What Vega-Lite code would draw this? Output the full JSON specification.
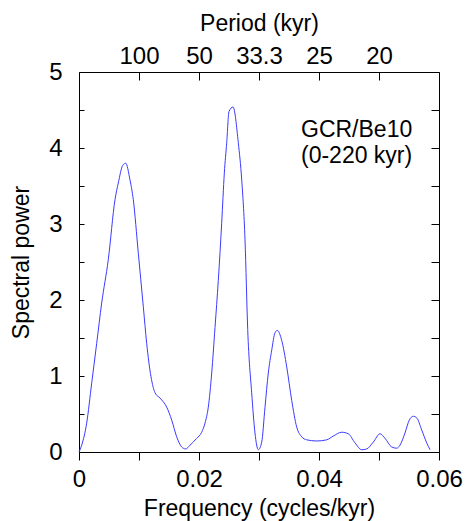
{
  "$schema": "https://vega.github.io/schema/vega-lite/v6.json",
  "width": 360,
  "height": 380,
  "autosize": "none",
  "padding": {"left": 79, "top": 72, "right": 26, "bottom": 69},
  "config": {
    "font": "Liberation Sans",
    "view": {"stroke": "black", "strokeWidth": 1},
    "axis": {
      "grid": false,
      "domain": false,
      "tickColor": "black",
      "tickWidth": 1,
      "labelColor": "black",
      "labelFontSize": 24,
      "labelFont": "Liberation Sans",
      "labelFlush": false,
      "labelOverlap": false,
      "titleFont": "Liberation Sans",
      "titleFontSize": 23,
      "titleFontWeight": "normal",
      "titleColor": "black"
    }
  },
  "data": {
    "values": [
      {"f": 0, "P": 0},
      {"f": 0.00045, "P": 0.09},
      {"f": 0.00128, "P": 0.38},
      {"f": 0.00212, "P": 0.91},
      {"f": 0.00295, "P": 1.43},
      {"f": 0.00378, "P": 1.96},
      {"f": 0.00488, "P": 2.53},
      {"f": 0.006, "P": 3.32},
      {"f": 0.00655, "P": 3.54},
      {"f": 0.00728, "P": 3.77},
      {"f": 0.00778, "P": 3.8},
      {"f": 0.0085, "P": 3.58},
      {"f": 0.00905, "P": 3.32},
      {"f": 0.00988, "P": 2.62},
      {"f": 0.01072, "P": 1.91},
      {"f": 0.01128, "P": 1.43},
      {"f": 0.012, "P": 0.99},
      {"f": 0.01267, "P": 0.78},
      {"f": 0.0135, "P": 0.71},
      {"f": 0.01462, "P": 0.59},
      {"f": 0.01545, "P": 0.42},
      {"f": 0.01628, "P": 0.2},
      {"f": 0.01712, "P": 0.066},
      {"f": 0.01778, "P": 0.04},
      {"f": 0.0185, "P": 0.09},
      {"f": 0.01962, "P": 0.18},
      {"f": 0.02045, "P": 0.26},
      {"f": 0.021, "P": 0.38},
      {"f": 0.02155, "P": 0.59},
      {"f": 0.02212, "P": 1.04},
      {"f": 0.02267, "P": 1.64},
      {"f": 0.02322, "P": 2.26},
      {"f": 0.02378, "P": 3.01},
      {"f": 0.02422, "P": 3.67},
      {"f": 0.02462, "P": 4.07},
      {"f": 0.025, "P": 4.48},
      {"f": 0.02567, "P": 4.54},
      {"f": 0.02655, "P": 4.07},
      {"f": 0.02712, "P": 3.58},
      {"f": 0.02767, "P": 2.79},
      {"f": 0.02812, "P": 1.61},
      {"f": 0.02878, "P": 0.78},
      {"f": 0.02933, "P": 0.25},
      {"f": 0.02988, "P": 0.03},
      {"f": 0.03045, "P": 0.13},
      {"f": 0.031, "P": 0.59},
      {"f": 0.03155, "P": 1.04},
      {"f": 0.03212, "P": 1.34},
      {"f": 0.03267, "P": 1.57},
      {"f": 0.03305, "P": 1.6},
      {"f": 0.03378, "P": 1.47},
      {"f": 0.03462, "P": 1.12},
      {"f": 0.03545, "P": 0.68},
      {"f": 0.03628, "P": 0.33},
      {"f": 0.03712, "P": 0.2},
      {"f": 0.03795, "P": 0.16},
      {"f": 0.03962, "P": 0.145},
      {"f": 0.04128, "P": 0.16},
      {"f": 0.04238, "P": 0.21},
      {"f": 0.04378, "P": 0.26},
      {"f": 0.04488, "P": 0.24},
      {"f": 0.046, "P": 0.12},
      {"f": 0.04712, "P": 0.03},
      {"f": 0.04795, "P": 0.04},
      {"f": 0.04905, "P": 0.13},
      {"f": 0.05017, "P": 0.24},
      {"f": 0.051, "P": 0.18},
      {"f": 0.05212, "P": 0.066},
      {"f": 0.05295, "P": 0.05},
      {"f": 0.0535, "P": 0.09},
      {"f": 0.05433, "P": 0.25},
      {"f": 0.05505, "P": 0.42},
      {"f": 0.05572, "P": 0.47},
      {"f": 0.05628, "P": 0.45},
      {"f": 0.05712, "P": 0.29},
      {"f": 0.05795, "P": 0.12},
      {"f": 0.0585, "P": 0.03}
    ]
  },
  "resolve": {"axis": {"x": "independent", "y": "independent"}},
  "layer": [
    {
      "mark": {"type": "line", "color": "#3b3bff", "strokeWidth": 1, "interpolate": "monotone"},
      "encoding": {
        "x": {
          "field": "f",
          "type": "quantitative",
          "scale": {"domain": [0, 0.06], "nice": false, "zero": false},
          "axis": {
            "orient": "bottom",
            "title": "Frequency (cycles/kyr)",
            "values": [0, 0.01, 0.02, 0.03, 0.04, 0.05, 0.06],
            "labelExpr": "round(datum.value*100) % 2 == 0 ? (datum.value == 0 ? '0' : format(datum.value, '.2f')) : ''",
            "tickSize": 8,
            "labelPadding": 7,
            "titlePadding": 6
          }
        },
        "y": {
          "field": "P",
          "type": "quantitative",
          "scale": {"domain": [0, 5], "nice": false},
          "axis": {
            "orient": "left",
            "title": "Spectral power",
            "values": [0, 0.5, 1, 1.5, 2, 2.5, 3, 3.5, 4, 4.5, 5],
            "labelExpr": "datum.value % 1 == 0 ? format(datum.value, 'd') : ''",
            "tickSize": -5,
            "labelPadding": 22,
            "titlePadding": 15
          }
        }
      }
    },
    {
      "data": {"values": [{"label": "GCR/Be10\n(0-220 kyr)"}]},
      "mark": {"type": "text", "align": "left", "baseline": "alphabetic", "fontSize": 23, "lineBreak": "\n", "lineHeight": 26.7, "font": "Liberation Sans", "color": "black"},
      "encoding": {
        "text": {"field": "label"},
        "x": {
          "datum": 0.037,
          "type": "quantitative",
          "axis": {
            "orient": "top",
            "title": "Period (kyr)",
            "values": [0.01, 0.02, 0.03, 0.04, 0.05],
            "labelExpr": "'' + round(10/datum.value)/10",
            "tickSize": -8,
            "labelPadding": 12,
            "titlePadding": 9
          }
        },
        "y": {
          "datum": 4.149,
          "type": "quantitative",
          "axis": {
            "orient": "right",
            "title": null,
            "labels": false,
            "tickSize": -8,
            "values": [0, 0.5, 1, 1.5, 2, 2.5, 3, 3.5, 4, 4.5, 5]
          }
        }
      }
    }
  ]
}
